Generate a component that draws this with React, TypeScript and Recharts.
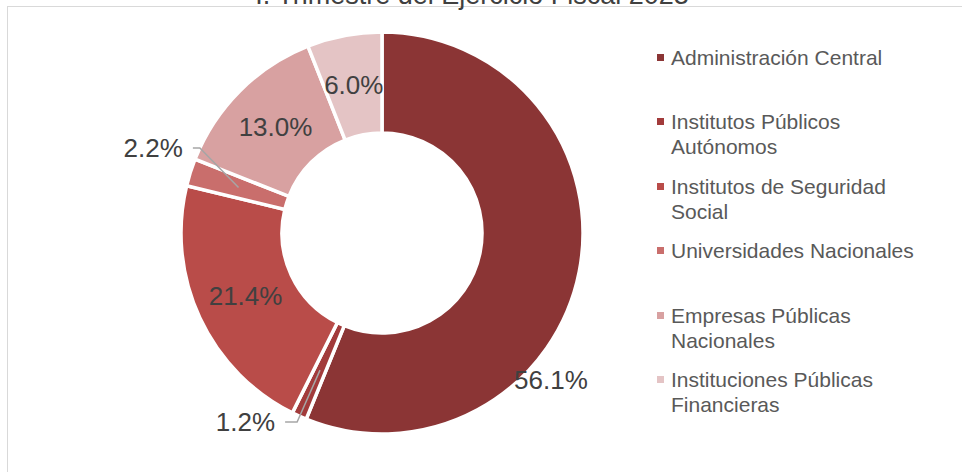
import React from 'react';
import { PieChart, Pie, Cell, Legend } from 'recharts';

const title = 'I. Trimestre del Ejercicio Fiscal 2023';
const categories = [
  'Administración Central',
  'Institutos Públicos Autónomos',
  'Institutos de Seguridad Social',
  'Universidades Nacionales',
  'Empresas Públicas Nacionales',
  'Instituciones Públicas Financieras',
];
const shares = [56.1, 1.2, 21.4, 2.2, 13.0, 6.0];
const colors = ['#8B3535', '#A23B3B', '#B94C49', '#C96E6C', '#D8A1A1', '#E4C4C5'];

// label placement overrides (null => centered in the ring)
const labelPlacements: any[] = [
  { radiusFactor: 1.114, angle: -41, anchor: 'middle' },
  { radiusFactor: 1.08, angle: -119.5, anchor: 'end', leader: 22 },
  null,
  { radiusFactor: 1.077, angle: 156.9, anchor: 'end', leader: 17 },
  null,
  null,
];

const data = categories.map((name, i) => ({ name, value: shares[i] }));

const FONT = '"Liberation Sans", Arial, sans-serif';
const RAD = Math.PI / 180;
const polar = (cx: number, cy: number, r: number, deg: number) => ({
  x: cx + r * Math.cos(-deg * RAD),
  y: cy + r * Math.sin(-deg * RAD),
});

const renderLabel = (props: any) => {
  const { cx, cy, midAngle, innerRadius, outerRadius, index, value } = props;
  const text = `${Number(value).toFixed(1)}%`;
  const pl = labelPlacements[index];
  const mid = (innerRadius + outerRadius) / 2;
  if (!pl) {
    const p = polar(cx, cy, mid, midAngle);
    return (
      <text key={`l${index}`} x={p.x} y={p.y} textAnchor="middle" dominantBaseline="central"
        fill="#404040" fontSize={26} fontFamily={FONT}>{text}</text>
    );
  }
  const p = polar(cx, cy, outerRadius * pl.radiusFactor, pl.angle);
  const els: any[] = [];
  if (pl.leader) {
    const a = polar(cx, cy, mid, midAngle);
    els.push(
      <polyline key="ln" points={`${a.x},${a.y} ${p.x + pl.leader},${p.y} ${p.x + 10},${p.y}`}
        fill="none" stroke="#A6A6A6" strokeWidth={1.5} />
    );
  }
  els.push(
    <text key="tx" x={p.x} y={p.y} textAnchor={pl.anchor} dominantBaseline="central"
      fill="#404040" fontSize={26} fontFamily={FONT}>{text}</text>
  );
  return <g key={`l${index}`}>{els}</g>;
};

const renderLegend = () => (
  <div style={{ fontFamily: FONT, fontSize: 21, color: '#595959' }}>
    {categories.map((name, i) => (
      <div key={name} style={{ position: 'relative', height: 64.6 }}>
        <div style={{ position: 'absolute', left: 2, top: 9, width: 7, height: 7, background: colors[i] }} />
        <div style={{ position: 'absolute', left: 16, top: 0, width: 258, lineHeight: '25px' }}>{name}</div>
      </div>
    ))}
  </div>
);

export default function App() {
  return (
    <div style={{ position: 'absolute', left: 0, top: 0, width: 962, height: 472, overflow: 'hidden', background: '#fff' }}>
      <div style={{ position: 'absolute', left: 7, top: 6, width: 1000, height: 520, borderLeft: '1.3px solid #D9D9D9', borderTop: '1.3px solid #D9D9D9' }} />
      <div style={{ position: 'absolute', left: 0, width: 944, top: -18, textAlign: 'center', fontFamily: FONT, fontSize: 27, lineHeight: '27px', color: '#404040', whiteSpace: 'nowrap' }}>{title}</div>
      <div style={{ position: 'absolute', left: 0, top: 0 }}>
        <PieChart width={962} height={472} margin={{ top: 0, right: 0, bottom: 0, left: 0 }}>
          <Pie data={data} dataKey="value" nameKey="name" cx={382} cy={233}
            innerRadius={100} outerRadius={201} startAngle={90} endAngle={-270}
            stroke="#FFFFFF" strokeWidth={3.5} isAnimationActive={false}
            label={renderLabel} labelLine={false}>
            {data.map((d, i) => <Cell key={d.name} fill={colors[i]} />)}
          </Pie>
          <Legend layout="vertical" align="right" verticalAlign="top" content={renderLegend}
            wrapperStyle={{ left: 655, top: 44.5, width: 300, right: 'auto', bottom: 'auto' }} />
        </PieChart>
      </div>
    </div>
  );
}
